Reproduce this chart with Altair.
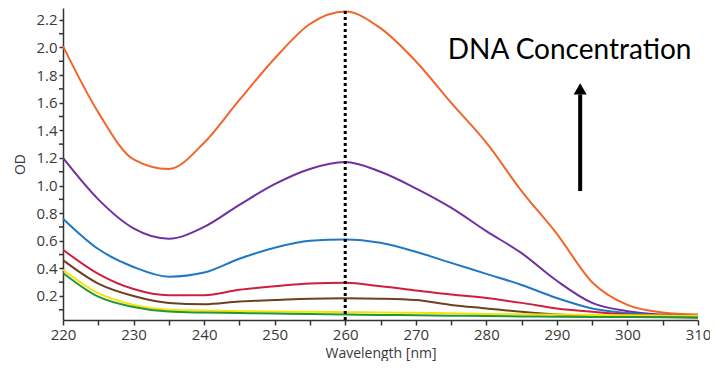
import altair as alt
import pandas as pd

wavelengths = [220, 225, 230, 235, 240, 245, 250, 255, 260, 265, 270, 275, 280, 285, 290, 295, 300, 305, 310]

orange = [2.01, 1.53, 1.19, 1.12, 1.31, 1.62, 1.92, 2.17, 2.26, 2.14, 1.90, 1.60, 1.31, 0.96, 0.65, 0.30, 0.135, 0.08, 0.065]
purple = [1.20, 0.90, 0.69, 0.615, 0.70, 0.86, 1.01, 1.12, 1.17, 1.10, 0.98, 0.84, 0.67, 0.51, 0.31, 0.15, 0.09, 0.065, 0.055]
blue = [0.76, 0.54, 0.41, 0.34, 0.37, 0.47, 0.55, 0.60, 0.61, 0.585, 0.52, 0.44, 0.36, 0.28, 0.185, 0.11, 0.076, 0.055, 0.045]
red = [0.535, 0.36, 0.25, 0.205, 0.205, 0.245, 0.27, 0.29, 0.295, 0.27, 0.24, 0.21, 0.185, 0.15, 0.11, 0.085, 0.065, 0.055, 0.05]
brown = [0.46, 0.29, 0.20, 0.15, 0.14, 0.16, 0.17, 0.18, 0.183, 0.18, 0.17, 0.135, 0.11, 0.085, 0.065, 0.055, 0.05, 0.047, 0.045]
yellow = [0.39, 0.22, 0.135, 0.10, 0.095, 0.09, 0.087, 0.085, 0.083, 0.08, 0.078, 0.074, 0.07, 0.067, 0.065, 0.062, 0.06, 0.058, 0.057]
green = [0.367, 0.195, 0.12, 0.087, 0.08, 0.076, 0.073, 0.07, 0.066, 0.063, 0.06, 0.057, 0.055, 0.052, 0.05, 0.048, 0.047, 0.046, 0.045]

series_names = ["orange", "purple", "blue", "red", "brown", "yellow", "green"]
series_values = [orange, purple, blue, red, brown, yellow, green]
series_colors = ["#f2652b", "#7030a0", "#2077c4", "#cf1f3f", "#6e401e", "#f5e400", "#23963a"]

y_major_ticks = [0.2, 0.4, 0.6, 0.8, 1.0, 1.2, 1.4, 1.6, 1.8, 2.0, 2.2]
y_minor_ticks = [0.1, 0.3, 0.5, 0.7, 0.9, 1.1, 1.3, 1.5, 1.7, 1.9, 2.1]
x_ticks = list(range(220, 311, 5))

rows = []
for name, vals in zip(series_names, series_values):
    for w, v in zip(wavelengths, vals):
        rows.append({"wavelength": w, "od": v, "series": name})
df = pd.DataFrame(rows)

W, H = 635, 312
FONT = "Open Sans"

x_scale = alt.Scale(domain=[220, 310], nice=False)
y_scale = alt.Scale(domain=[0.026, 2.286], nice=False, zero=False)

common_axis = dict(grid=False, domainColor="#333", domainWidth=1.5, tickColor="#333",
                   tickWidth=1.5, labelFontSize=15, labelColor="#3a3a3a", labelFont=FONT,
                   titleFont=FONT, titleFontSize=14, titleFontWeight="normal",
                   titleColor="#3a3a3a", labelFlush=False, labelOverlap=False)

x_axis = alt.Axis(values=x_ticks, labelExpr="datum.value % 10 == 0 ? datum.label : ''",
                  tickSize=5, labelPadding=2, titlePadding=4, **common_axis)
y_axis = alt.Axis(values=y_major_ticks, format=".1f",
                  tickSize=4, labelPadding=2, titlePadding=8, **common_axis)


def X(field):
    return alt.X(field, scale=x_scale, title="Wavelength [nm]", axis=x_axis)


def Y(field):
    return alt.Y(field, scale=y_scale, title="OD", axis=y_axis)


lines = alt.Chart(df).mark_line(strokeWidth=2, interpolate="monotone").encode(
    x=X("wavelength:Q"), y=Y("od:Q"),
    color=alt.Color("series:N", scale=alt.Scale(domain=series_names, range=series_colors), legend=None),
    order=alt.Order("series:N"),
)

minor = alt.Chart(pd.DataFrame({"od": y_minor_ticks})).mark_rule(color="#333", strokeWidth=1.5).encode(
    x=alt.value(-4), x2=alt.value(0), y=Y("od:Q"))

marker = alt.Chart(pd.DataFrame({"wavelength": [260]})).mark_rule(
    color="black", strokeWidth=3, strokeDash=[3, 3]
).encode(x=X("wavelength:Q"), y=alt.value(-3), y2=alt.value(H))

label_df = pd.DataFrame({"wavelength": [291.8], "od": [1.975], "text": ["DNA Concentration"]})
label = alt.Chart(label_df).mark_text(font="Lato", fontSize=28, color="black", align="center",
                                      baseline="middle").encode(
    x=X("wavelength:Q"), y=Y("od:Q"), text="text:N")

arrow_df = pd.DataFrame({"wavelength": [293.3], "od": [0.96], "od2": [1.66]})
shaft = alt.Chart(arrow_df).mark_rule(color="black", strokeWidth=4).encode(
    x=X("wavelength:Q"), y=Y("od:Q"), y2="od2:Q")
head_df = pd.DataFrame({"wavelength": [293.3], "od": [1.70]})
head = alt.Chart(head_df).mark_point(shape="triangle-up", filled=True, color="black",
                                     size=170, opacity=1).encode(
    x=X("wavelength:Q"), y=Y("od:Q"))

chart = alt.layer(lines, minor, marker, label, shaft, head).properties(
    width=W, height=H,
    autosize=alt.AutoSizeParams(type="none"),
    padding={"left": 55, "top": 0, "right": 12, "bottom": 41},
).configure_view(stroke=None)

chart.save("out.html", embed_options={"renderer": "svg", "actions": False})
